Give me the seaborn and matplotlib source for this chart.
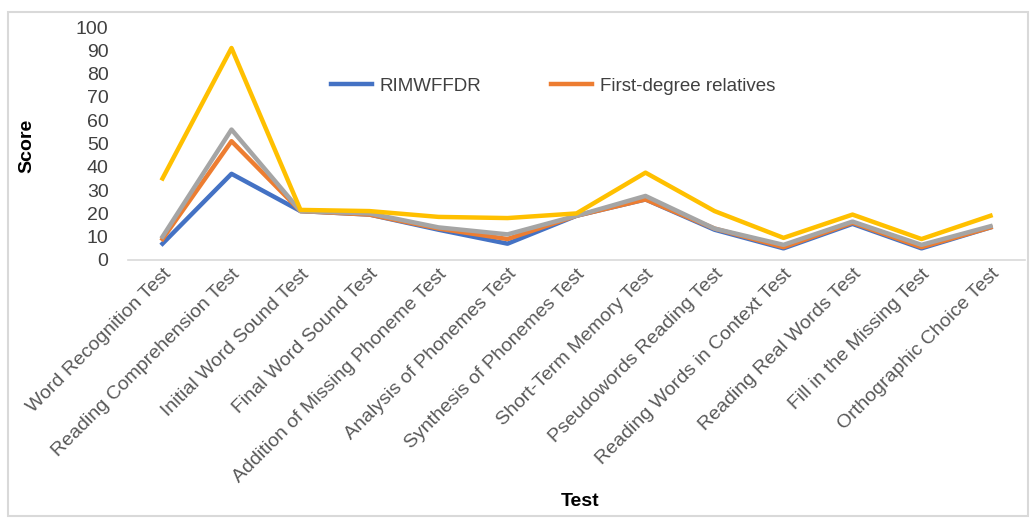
import pandas as pd
import matplotlib.pyplot as plt
import seaborn as sns
from matplotlib.patches import Rectangle
from matplotlib.lines import Line2D

tests = ['Word Recognition Test', 'Reading Comprehension Test', 'Initial Word Sound Test',
         'Final Word Sound Test', 'Addition of Missing Phoneme Test', 'Analysis of Phonemes Test',
         'Synthesis of Phonemes Test', 'Short-Term Memory Test', 'Pseudowords Reading Test',
         'Reading Words in Context Test', 'Reading Real Words Test', 'Fill in the Missing Test',
         'Orthographic Choice Test']

rimwffdr = [7, 37, 21, 19.5, 13, 7, 19, 26, 13, 5, 15.5, 5, 14]
first_degree = [9, 51, 21, 19.5, 13.5, 9, 19, 26, 13.5, 5.5, 16, 5.5, 14]
series_3 = [10, 56, 21, 20, 14, 11, 19, 27.5, 13.5, 6.5, 16.5, 6.5, 14.5]
series_4 = [35, 91, 21.5, 21, 18.5, 18, 20, 37.5, 21, 9.5, 19.5, 9, 19]

names = ['RIMWFFDR', 'First-degree relatives', 'Series 3', 'Series 4']
colors = ['#4472C4', '#ED7D31', '#A5A5A5', '#FFC000']

df = pd.DataFrame({'Test': tests, names[0]: rimwffdr, names[1]: first_degree,
                   names[2]: series_3, names[3]: series_4})
long = df.melt(id_vars='Test', var_name='Group', value_name='Score')

plt.rcParams['font.family'] = ['Liberation Sans', 'DejaVu Sans']

fig = plt.figure(figsize=(10.34, 5.2), dpi=100)
ax = fig.add_axes([0.1238, 0.5, 0.8675, 0.448])

sns.lineplot(data=long, x='Test', y='Score', hue='Group', hue_order=names,
             palette=colors, linewidth=3.2, sort=False, legend=False, ax=ax)

ax.set_ylim(0, 100)
ax.set_xlim(-0.5, len(tests) - 0.5)
ax.set_yticks(range(0, 101, 10))
ax.tick_params(axis='both', length=0, labelsize=14, colors='#404040')
ax.tick_params(axis='y', pad=14)
ax.tick_params(axis='x', pad=4, labelcolor='#595959')
plt.setp(ax.get_xticklabels(), rotation=45, ha='right', rotation_mode='anchor')

for s in ['top', 'right', 'left']:
    ax.spines[s].set_visible(False)
ax.spines['bottom'].set_color('#D9D9D9')
ax.spines['bottom'].set_linewidth(1.2)

ax.set_xlabel('Test', fontsize=14, fontweight='bold', color='black')
ax.set_ylabel('Score', fontsize=14, fontweight='bold', color='black')
ax.xaxis.set_label_coords(0.504, -1.0)
ax.yaxis.set_label_coords(-0.103, 0.49)

handles = [Line2D([0], [0], color=colors[0], lw=3.2), Line2D([0], [0], color=colors[1], lw=3.2)]
ax.legend(handles, names[:2], ncol=2, frameon=False, fontsize=13.5,
          loc='center', bbox_to_anchor=(0.474, 0.745), handlelength=2.2,
          handletextpad=0.4, columnspacing=3.7, labelcolor='#404040')

fig.patches.append(Rectangle((8 / 1034, 4 / 520), 1020 / 1034, 504 / 520,
                             transform=fig.transFigure, fill=False,
                             edgecolor='#D9D9D9', linewidth=1.5))

fig.savefig('out.png', dpi=100)
